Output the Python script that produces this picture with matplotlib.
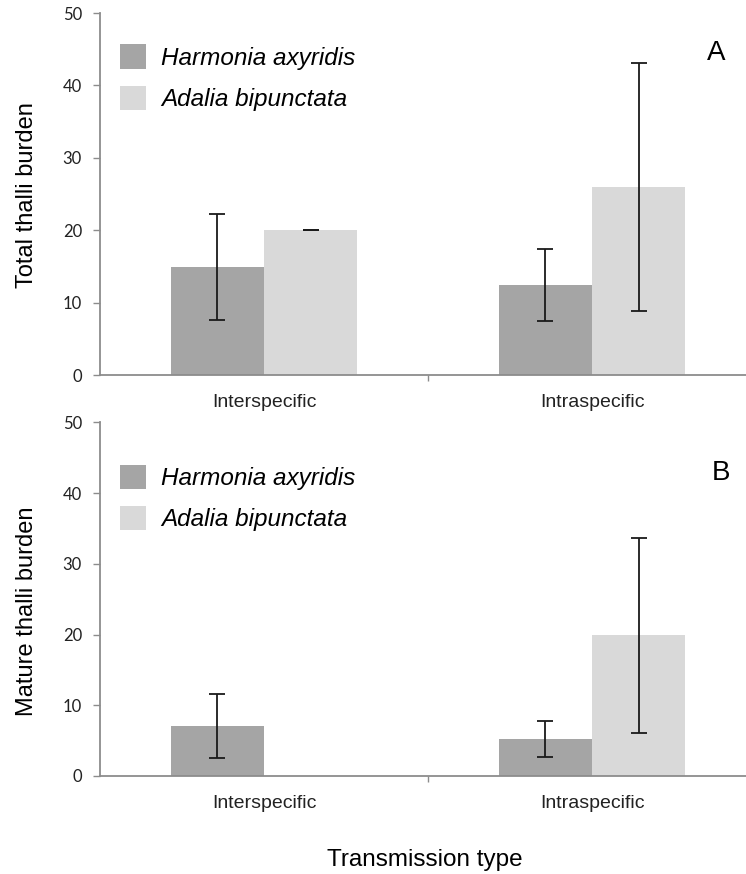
import numpy as np
import matplotlib.pyplot as plt
from matplotlib.ticker import FixedLocator

categories = ['Interspecific', 'Intraspecific']
species = ['Harmonia axyridis', 'Adalia bipunctata']

# total thalli burden (mean, SE)
total_harmonia = [14.9, 12.4]
total_harmonia_se = [7.3, 5.0]
total_adalia = [20.0, 26.0]
total_adalia_se = [0.0, 17.1]

# mature thalli burden (mean, SE)
mature_harmonia = [7.05, 5.25]
mature_harmonia_se = [4.5, 2.55]
mature_adalia = [0.0, 19.9]
mature_adalia_se = [np.nan, 13.8]

col_harmonia = '#a5a5a5'
col_adalia = '#d9d9d9'

plt.rcParams['font.family'] = ['Liberation Sans', 'DejaVu Sans']

W, H = 746, 874
fig = plt.figure(figsize=(W / 100, H / 100), dpi=100)

left = 100 / W
width = 656 / W
ax_top = fig.add_axes([left, 1 - 375 / H, width, (375 - 13) / H])
ax_bot = fig.add_axes([left, 1 - 776 / H, width, (776 - 422.3) / H])

x = np.arange(len(categories))
bw = 0.285


def panel(ax, h_vals, h_err, a_vals, a_err, ylabel, label_y, tag, tag_xy, leg_y):
    b1 = ax.bar(x - bw / 2, h_vals, bw, color=col_harmonia, label=species[0])
    b2 = ax.bar(x + bw / 2, a_vals, bw, color=col_adalia, label=species[1])
    for off, vals, err in [(-bw / 2, h_vals, h_err), (bw / 2, a_vals, a_err)]:
        for xi, v, e in zip(x, vals, err):
            if np.isnan(e):
                continue
            ax.errorbar(xi + off, v, yerr=e, fmt='none', ecolor='#1a1a1a',
                        elinewidth=1.3, capsize=6, capthick=1.3)

    ax.set_xlim(-0.5, 1.5)
    ax.set_ylim(0, 50)
    ax.set_yticks(range(0, 51, 10))
    ax.set_xticks(x)
    ax.set_xticklabels(categories)
    ax.xaxis.set_minor_locator(FixedLocator([0.5]))

    for s in ['top', 'right']:
        ax.spines[s].set_visible(False)
    for s in ['left', 'bottom']:
        ax.spines[s].set_color('#8c8c8c')
        ax.spines[s].set_linewidth(1.3)

    ax.tick_params(axis='y', direction='out', length=5, width=1, color='#8c8c8c',
                   pad=8, labelsize=12, labelcolor='#222222')
    for lab in ax.get_yticklabels():
        lab.set_fontfamily(['Lato', 'DejaVu Sans'])
    ax.tick_params(axis='x', which='major', length=0, pad=14, labelsize=14,
                   labelcolor='#222222')
    ax.tick_params(axis='x', which='minor', direction='out', length=4, width=1,
                   color='#8c8c8c')

    ax.set_ylabel(ylabel, fontsize=17, labelpad=18, y=label_y)

    ax.legend(handles=[b1, b2], loc='upper left',
              bbox_to_anchor=(0.03, leg_y), frameon=False,
              prop={'size': 17.5, 'style': 'italic'},
              handlelength=1.1, handleheight=1.15,
              handletextpad=0.6, labelspacing=0.65,
              borderpad=0, borderaxespad=0)

    ax.text(tag_xy[0], tag_xy[1], tag, transform=ax.transAxes, fontsize=20,
            ha='center', va='center')


panel(ax_top, total_harmonia, total_harmonia_se, total_adalia, total_adalia_se,
      'Total thalli burden', 0.497, 'A', (0.939, 0.889), 0.913)
panel(ax_bot, mature_harmonia, mature_harmonia_se, mature_adalia, mature_adalia_se,
      'Mature thalli burden', 0.465, 'B', (0.947, 0.857), 0.879)

fig.text(425 / W, 1 - 860 / H, 'Transmission type', fontsize=17.5,
         ha='center', va='center')

fig.savefig('out.png', dpi=100)
